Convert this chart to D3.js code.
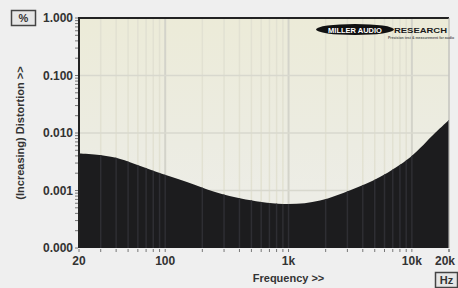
<!DOCTYPE html>
<html>
<head>
<meta charset="utf-8">
<script src="https://cdn.jsdelivr.net/npm/d3@7"></script>
<style>
  body { margin: 0; background: #efefef; }
  text { font-family: "Liberation Sans", Arial, sans-serif; font-weight: bold; }
</style>
</head>
<body>
<div id="chart"></div>
<script>
// distortion vs frequency
var freqs = [20, 28, 40, 80, 150, 250, 450, 1000, 1800, 3200, 5500, 9700, 15400, 20000];
var thd = [0.0044, 0.0042, 0.0037, 0.0022, 0.0014, 0.00095, 0.00070, 0.00058, 0.00067, 0.00102, 0.00172, 0.0038, 0.0100, 0.0168];
var yTicks = [1, 0.1, 0.01, 0.001, 0.0001];
var yTickLabels = ['1.000', '0.100', '0.010', '0.001', '0.000'];
var xTicks = [20, 100, 1000, 10000, 20000];
var xTickLabels = ['20', '100', '1k', '10k', '20k'];

var w = 458, h = 288;
var m = {left: 79, right: 9, top: 18, bottom: 40};

var svg = d3.select('#chart').append('svg')
  .attr('width', w)
  .attr('height', h);

var x = d3.scaleLog().domain([20, 20000]).range([m.left, w - m.right]);
var y = d3.scaleLog().domain([0.0001, 1]).range([h - m.bottom, m.top]);

var defs = svg.append('defs');
var grad = defs.append('linearGradient').attr('id', 'bg')
  .attr('x1', 0).attr('y1', 0).attr('x2', 0).attr('y2', 1);
grad.append('stop').attr('offset', '0%').attr('stop-color', '#ecebd8');
grad.append('stop').attr('offset', '55%').attr('stop-color', '#ecece2');
grad.append('stop').attr('offset', '100%').attr('stop-color', '#eeeeea');

//plot background
svg.append('rect')
  .attr('x', x(20)).attr('y', y(1))
  .attr('width', x(20000) - x(20))
  .attr('height', y(0.0001) - y(1))
  .attr('fill', 'url(#bg)');

//grid lines, all the 1-2-3.. steps per decade
var xGrid = [];
[10, 100, 1000, 10000].forEach(function (d) {
  for (var k = 1; k < 10; k++) {
    var f = d * k;
    if (f >= 20 && f <= 20000) xGrid.push(f);
  }
});
xGrid.push(20000);
var majors = [100, 1000, 10000];

svg.append('g').selectAll('line')
  .data(xGrid)
  .enter().append('line')
  .attr('x1', function (d) { return x(d); })
  .attr('x2', function (d) { return x(d); })
  .attr('y1', y(1)).attr('y2', y(0.0001))
  .attr('stroke', function (d) { return majors.indexOf(d) >= 0 ? '#d3d3ca' : '#e2e1d2'; })
  .attr('stroke-width', function (d) { return majors.indexOf(d) >= 0 ? 2 : 1.5; });

svg.append('g').selectAll('line')
  .data([0.1, 0.01, 0.001])
  .enter().append('line')
  .attr('x1', x(20)).attr('x2', x(20000))
  .attr('y1', function (d) { return y(d); })
  .attr('y2', function (d) { return y(d); })
  .attr('stroke', '#d8d8ce')
  .attr('stroke-width', 1.5);

//dark fill under the curve
var area = d3.area()
  .x(function (d, i) { return x(freqs[i]); })
  .y0(y(0.0001))
  .y1(function (d) { return y(d); })
  .curve(d3.curveCatmullRom.alpha(0.5));

svg.append('path')
  .datum(thd)
  .attr('d', area)
  .attr('fill', '#1c1c1e');

//faint lines showing through the dark area
svg.append('clipPath').attr('id', 'under')
  .append('path').datum(thd).attr('d', area);

svg.append('g').attr('clip-path', 'url(#under)')
  .selectAll('line')
  .data(xGrid)
  .enter().append('line')
  .attr('x1', function (d) { return x(d); })
  .attr('x2', function (d) { return x(d); })
  .attr('y1', y(1)).attr('y2', y(0.0001))
  .attr('stroke', '#2e2e33')
  .attr('stroke-width', 1.5);

//frame
svg.append('line')
  .attr('x1', x(20)).attr('x2', x(20000))
  .attr('y1', y(1)).attr('y2', y(1))
  .attr('stroke', '#222').attr('stroke-width', 2);
svg.append('line')
  .attr('x1', x(20)).attr('x2', x(20))
  .attr('y1', y(1) - 1).attr('y2', y(0.0001))
  .attr('stroke', '#222').attr('stroke-width', 2);
svg.append('line')
  .attr('x1', x(20000)).attr('x2', x(20000))
  .attr('y1', y(1)).attr('y2', y(0.0001))
  .attr('stroke', '#bbb').attr('stroke-width', 1);

//minor ticks
var yMinor = [];
[0.0001, 0.001, 0.01, 0.1].forEach(function (d) {
  for (var k = 1; k < 10; k++) yMinor.push(d * k);
});
yMinor.push(1);
svg.append('g').selectAll('line')
  .data(yMinor)
  .enter().append('line')
  .attr('x1', x(20) - 4).attr('x2', x(20) - 1)
  .attr('y1', function (d) { return y(d); })
  .attr('y2', function (d) { return y(d); })
  .attr('stroke', '#777');

svg.append('g').selectAll('line')
  .data(xGrid)
  .enter().append('line')
  .attr('x1', function (d) { return x(d); })
  .attr('x2', function (d) { return x(d); })
  .attr('y1', y(0.0001) + 1).attr('y2', y(0.0001) + 4)
  .attr('stroke', '#777');

//tick labels
svg.append('g').selectAll('text')
  .data(yTicks)
  .enter().append('text')
  .attr('x', x(20) - 6)
  .attr('y', function (d) { return y(d) + 4; })
  .attr('text-anchor', 'end')
  .attr('font-size', 12)
  .attr('fill', '#333')
  .text(function (d, i) { return yTickLabels[i]; });

svg.append('g').selectAll('text')
  .data(xTicks)
  .enter().append('text')
  .attr('x', function (d) { return x(d); })
  .attr('y', y(0.0001) + 17)
  .attr('text-anchor', function (d) { return d === 20000 ? 'end' : 'middle'; })
  .attr('dx', function (d) { return d === 20000 ? 6 : 0; })
  .attr('font-size', 12)
  .attr('fill', '#333')
  .text(function (d, i) { return xTickLabels[i]; });

//axis titles
svg.append('text')
  .attr('transform', 'translate(24,' + ((y(1) + y(0.0001)) / 2) + ') rotate(-90)')
  .attr('text-anchor', 'middle')
  .attr('font-size', 11)
  .attr('fill', '#333')
  .text('(Increasing) Distortion >>');

svg.append('text')
  .attr('x', x(1000))
  .attr('y', 282)
  .attr('text-anchor', 'middle')
  .attr('font-size', 11)
  .attr('fill', '#333')
  .text('Frequency >>');

//unit boxes
function unitBox(bx, by, bw, bh, label) {
  svg.append('rect')
    .attr('x', bx).attr('y', by)
    .attr('width', bw).attr('height', bh)
    .attr('fill', '#e6e6e6')
    .attr('stroke', '#444').attr('stroke-width', 1.5);
  svg.append('text')
    .attr('x', bx + bw / 2).attr('y', by + bh - 4)
    .attr('text-anchor', 'middle')
    .attr('font-size', 11)
    .attr('fill', '#333')
    .text(label);
}
unitBox(11.5, 10.5, 24, 15, '%');
unitBox(435.5, 272.5, 22, 15, 'Hz');

//logo
var logo = svg.append('g');
logo.append('ellipse')
  .attr('cx', 355).attr('cy', 29.5)
  .attr('rx', 39).attr('ry', 5.5)
  .attr('fill', '#111');
logo.append('text')
  .attr('x', 355).attr('y', 32.5)
  .attr('text-anchor', 'middle')
  .attr('font-size', 7.5)
  .attr('font-family', 'DejaVu Serif')
  .attr('fill', '#fff')
  .text('MILLER AUDIO');
logo.append('text')
  .attr('x', 394).attr('y', 32.5)
  .attr('font-size', 8)
  .attr('font-family', 'DejaVu Serif')
  .attr('textLength', 53)
  .attr('lengthAdjust', 'spacingAndGlyphs')
  .attr('fill', '#1a1a1a')
  .text('RESEARCH');
logo.append('text')
  .attr('x', 388).attr('y', 39)
  .attr('font-size', 3.5)
  .attr('fill', '#555')
  .text('Precision test & measurement for audio');
</script>
</body>
</html>
